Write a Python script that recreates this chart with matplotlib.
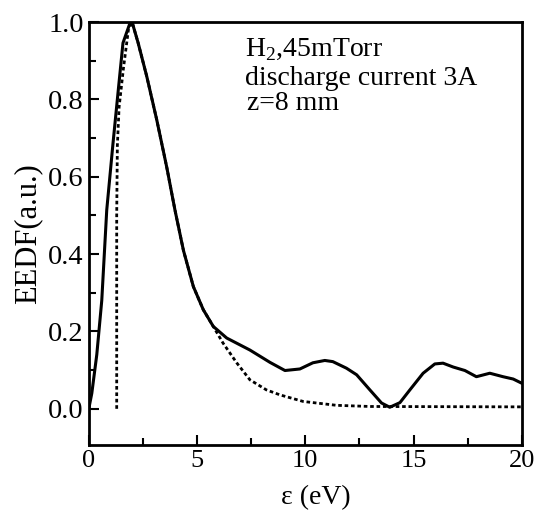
import matplotlib
matplotlib.use("Agg")
import matplotlib.pyplot as plt
from matplotlib.ticker import MultipleLocator

plt.rcParams['font.family'] = ['Liberation Serif', 'DejaVu Serif']
plt.rcParams['mathtext.fontset'] = 'custom'
plt.rcParams['mathtext.rm'] = 'Liberation Serif'

# measured EEDF (solid)
meas_e = [0.0, 0.14, 0.37, 0.6, 0.83, 1.12, 1.35, 1.58, 1.9, 2.0, 2.28, 2.68,
          3.14, 3.6, 3.98, 4.37, 4.83, 5.29, 5.75, 6.37, 7.44, 8.37, 9.06,
          9.75, 10.35, 10.9, 11.27, 11.9, 12.37, 12.98, 13.52, 13.9, 14.37,
          14.83, 15.44, 15.98, 16.36, 16.83, 17.37, 17.9, 18.52, 19.13, 19.6, 20.0]
meas_f = [0.0, 0.04, 0.14, 0.28, 0.514, 0.687, 0.817, 0.946, 0.997, 1.0, 0.946, 0.859,
          0.747, 0.625, 0.514, 0.41, 0.316, 0.256, 0.213, 0.183, 0.152, 0.12, 0.099,
          0.103, 0.119, 0.125, 0.122, 0.105, 0.088, 0.049, 0.015, 0.004, 0.016,
          0.049, 0.092, 0.116, 0.118, 0.108, 0.099, 0.083, 0.092, 0.083, 0.077, 0.066]

# fitted distribution (dotted)
fit_e = [1.29, 1.29, 1.32, 1.4, 1.6, 1.83, 2.0, 2.28, 2.68, 3.14, 3.6, 3.98,
         4.37, 4.83, 5.29, 5.75, 6.2, 6.83, 7.44, 8.2, 8.83, 9.9, 11.44, 13.0, 20.0]
fit_f = [0.0, 0.5, 0.68, 0.78, 0.88, 0.98, 1.0, 0.946, 0.859, 0.747, 0.625, 0.514,
         0.41, 0.316, 0.256, 0.213, 0.17, 0.119, 0.075, 0.049, 0.036, 0.019, 0.009, 0.006, 0.005]

fig = plt.figure(figsize=(5.38, 5.13), dpi=100)
ax = fig.add_axes([0.165, 0.133, 0.805, 0.824])

ax.plot(meas_e, meas_f, color='black', lw=2.2)
ax.plot(fit_e, fit_f, color='black', lw=2.0, linestyle=(0, (1.3, 1.0)))

ax.set_xlim(0, 20)
ax.set_ylim(-0.093, 1.0)
ax.xaxis.set_major_locator(MultipleLocator(5))
ax.xaxis.set_minor_locator(MultipleLocator(2.5))
ax.yaxis.set_major_locator(MultipleLocator(0.2))
ax.yaxis.set_minor_locator(MultipleLocator(0.1))
ax.set_yticks([0.0, 0.2, 0.4, 0.6, 0.8, 1.0])
ax.set_yticklabels(['0.0', '0.2', '0.4', '0.6', '0.8', '1.0'])
ax.tick_params(which='both', direction='in', top=False, right=False, width=1.5)
ax.tick_params(axis='x', labelsize=19)
ax.tick_params(axis='y', labelsize=20.5)
ax.tick_params(which='major', length=7)
ax.tick_params(which='minor', length=5)
for s in ax.spines.values():
    s.set_linewidth(2)

ax.set_xlabel('ε (eV)', fontsize=20, labelpad=6)
ax.xaxis.set_label_coords(0.525, -0.095)
ax.set_ylabel('EEDF(a.u.)', fontsize=22, labelpad=4)

ax.text(7.2, 0.912, r'H$_\mathrm{2}$,45mTorr', fontsize=20)
ax.text(7.2, 0.838, 'discharge current 3A', fontsize=20)
ax.text(7.3, 0.772, 'z=8 mm', fontsize=20)

fig.savefig('out.png', dpi=100)
